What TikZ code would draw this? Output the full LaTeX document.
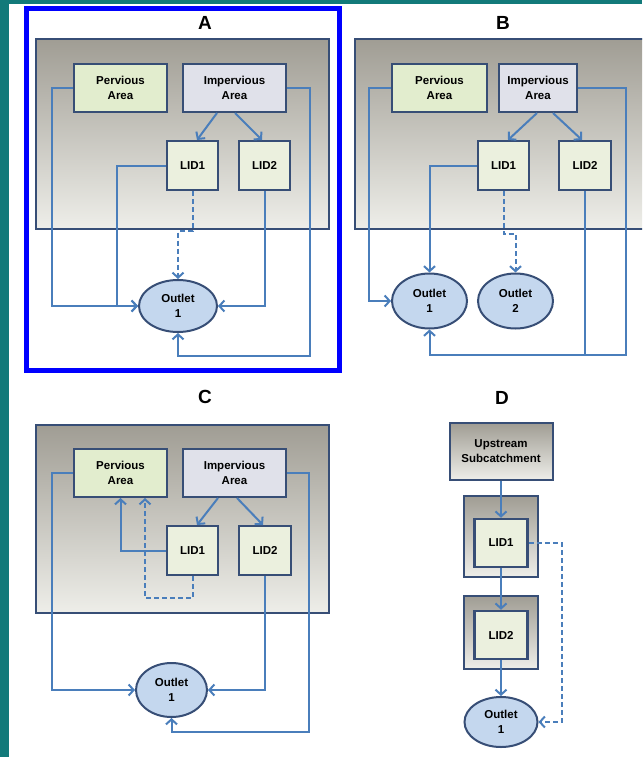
\documentclass[tikz,border=0pt]{standalone}
\usepackage{fontspec}
\setmainfont{Liberation Sans}
\usetikzlibrary{shapes.geometric,arrows.meta}
\definecolor{tealbg}{RGB}{18,122,122}
\definecolor{conn}{RGB}{74,126,187}
\definecolor{bord}{RGB}{55,78,118}
\definecolor{perv}{RGB}{226,237,206}
\definecolor{imperv}{RGB}{224,225,234}
\definecolor{lidc}{RGB}{235,240,222}
\definecolor{outc}{RGB}{196,215,238}
\definecolor{gtop}{RGB}{160,157,148}
\definecolor{gbot}{RGB}{238,238,233}
\definecolor{frameblue}{RGB}{0,0,255}
\begin{document}
\begin{tikzpicture}[x=1pt,y=-1pt,
  sub/.style={draw=bord,line width=2pt,top color=gtop,bottom color=gbot,inner sep=0},
  txt/.style={align=center,font=\fontsize{11.5}{15}\selectfont\bfseries},
  box/.style={txt,draw=bord,line width=2pt,inner sep=0},
  pbox/.style={box,fill=perv},
  ibox/.style={box,fill=imperv},
  lbox/.style={box,fill=lidc},
  obox/.style={txt,ellipse,draw=bord,line width=2pt,fill=outc,inner sep=0},
  flow/.style={draw=conn,line width=2pt,-{Straight Barb[length=5pt,width=11pt]}},
  plainflow/.style={draw=conn,line width=2pt},
  dsh/.style={dash pattern=on 5pt off 3pt},
  ttl/.style={font=\fontsize{19}{19}\selectfont\bfseries}]
\useasboundingbox (0,0) rectangle (642,757);
\clip (0,0) rectangle (642,757);
\fill[white] (0,0) rectangle (642,757);
\fill[tealbg] (0,0) rectangle (9,757);
\fill[tealbg] (0,0) rectangle (642,4.5);
\draw[frameblue,line width=4.5pt] (26.5,8.5) rectangle (339.5,370.5);

% ---------------- Panel A ----------------
\node[ttl] (tA) at (205,23) {A};
\node[sub,minimum width=293pt,minimum height=190pt] (subA) at (182.5,134) {};
\node[pbox,minimum width=93pt,minimum height=48pt] (pervA) at (120.5,88) {Pervious\\Area};
\node[ibox,minimum width=103pt,minimum height=48pt] (impA) at (234.5,88) {Impervious\\Area};
\node[lbox,minimum width=51pt,minimum height=49pt] (lid1A) at (192.5,165.5) {LID1};
\node[lbox,minimum width=51pt,minimum height=49pt] (lid2A) at (264.5,165.5) {LID2};
\node[obox,minimum width=78pt,minimum height=52pt] (outA) at (178,306) {Outlet\\1};
\draw[flow] (pervA.west) -- ++(-21,0) |- (outA.west);
\draw[flow] (lid1A.west) -- ++(-49,0) |- (outA.west);
\draw[flow,dsh] (lid1A.south) -- ++(0,40) -| (outA.north);
\draw[flow] (lid2A.south) |- (outA.east);
\draw[flow] (impA.east) -- ++(23,0) -- ++(0,268) -| (outA.south);
\draw[flow] ([xshift=-17.5pt]impA.south) -- ([xshift=4.5pt]lid1A.north);
\draw[flow] ([xshift=0.5pt]impA.south) -- ([xshift=-2.5pt]lid2A.north);

% ---------------- Panel B ----------------
\node[ttl] (tB) at (503,23) {B};
\node[sub,minimum width=295pt,minimum height=190pt] (subB) at (502.5,134) {};
\node[pbox,minimum width=95pt,minimum height=48pt] (pervB) at (439.5,88) {Pervious\\Area};
\node[ibox,minimum width=78pt,minimum height=48pt] (impB) at (538,88) {Impervious\\Area};
\node[lbox,minimum width=51pt,minimum height=49pt] (lid1B) at (503.5,165.5) {LID1};
\node[lbox,minimum width=52pt,minimum height=49pt] (lid2B) at (585,165.5) {LID2};
\node[obox,minimum width=75pt,minimum height=55pt] (out1B) at (429.5,301) {Outlet\\1};
\node[obox,minimum width=75pt,minimum height=55pt] (out2B) at (515.5,301) {Outlet\\2};
\draw[flow] (pervB.west) -- ++(-22,0) |- (out1B.west);
\draw[flow] (lid1B.west) -| (out1B.north);
\draw[flow,dsh] (lid1B.south) -- ++(0,43) -| (out2B.north);
\coordinate (jB) at (585,355);
\draw[plainflow] (lid2B.south) -- (jB);
\draw[flow] (impB.east) -- ++(48,0) -- ++(0,267) -| (out1B.south);
\draw[flow] ([xshift=-1pt]impB.south) -- ([xshift=4.5pt]lid1B.north);
\draw[flow] ([xshift=15pt]impB.south) -- ([xshift=-3pt]lid2B.north);

% ---------------- Panel C ----------------
\node[ttl] (tC) at (205,397) {C};
\node[sub,minimum width=293pt,minimum height=188pt] (subC) at (182.5,519) {};
\node[pbox,minimum width=93pt,minimum height=48pt] (pervC) at (120.5,473) {Pervious\\Area};
\node[ibox,minimum width=103pt,minimum height=48pt] (impC) at (234.5,473) {Impervious\\Area};
\node[lbox,minimum width=51pt,minimum height=49pt] (lid1C) at (192.5,550.5) {LID1};
\node[lbox,minimum width=52pt,minimum height=49pt] (lid2C) at (265,550.5) {LID2};
\node[obox,minimum width=71pt,minimum height=54pt] (outC) at (171.5,690) {Outlet\\1};
\draw[flow] (pervC.west) -- ++(-21,0) |- (outC.west);
\draw[flow] (lid1C.west) -| (pervC.south);
\draw[flow,dsh] (lid1C.south) -- ++(0,22) -| ([xshift=24.5pt]pervC.south);
\draw[flow] (lid2C.south) |- (outC.east);
\draw[flow] (impC.east) -- ++(22,0) -- ++(0,259) -| (outC.south);
\draw[flow] ([xshift=-16.5pt]impC.south) -- ([xshift=4.5pt]lid1C.north);
\draw[flow] ([xshift=2.5pt]impC.south) -- ([xshift=-2pt]lid2C.north);

% ---------------- Panel D ----------------
\node[ttl] (tD) at (502,398) {D};
\node[sub,txt,minimum width=103pt,minimum height=57pt] (upD) at (501,451.5) {Upstream\\Subcatchment};
\node[sub,minimum width=74pt,minimum height=81pt] (f1D) at (500.5,536.5) {};
\node[lbox,line width=2.5pt,minimum width=53pt,minimum height=48pt] (lid1D) at (501,543) {LID1};
\node[sub,minimum width=74pt,minimum height=73pt] (f2D) at (500.5,632.5) {};
\node[lbox,line width=2.5pt,minimum width=53pt,minimum height=48pt] (lid2D) at (501,635) {LID2};
\node[obox,minimum width=73pt,minimum height=50pt] (outD) at (501,722) {Outlet\\1};
\draw[flow] (upD.south) -- (lid1D.north);
\draw[flow] (lid1D.south) -- (lid2D.north);
\draw[flow] (lid2D.south) -- (outD.north);
\draw[flow,dsh] (lid1D.east) -- ++(33,0) |- (outD.east);
\end{tikzpicture}
\end{document}
